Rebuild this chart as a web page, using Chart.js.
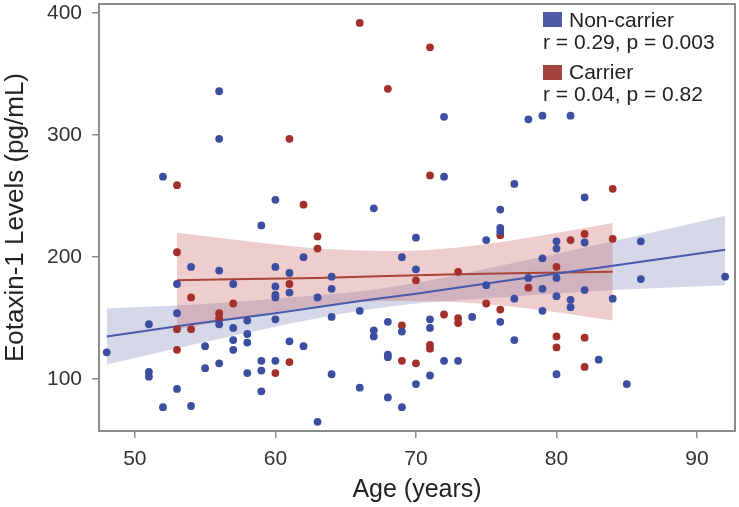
<!DOCTYPE html>
<html>
<head>
<meta charset="utf-8">
<script src="https://cdn.jsdelivr.net/npm/chart.js@4.4.1/dist/chart.umd.min.js"></script>
<style>
  html, body { margin: 0; padding: 0; background: #fff; }
  #wrap { width: 739px; height: 507px; }
</style>
</head>
<body>
<div id="wrap"><canvas id="eotaxin-chart" width="739" height="507"></canvas></div>
<script>
// tick labels
var xTicks = [50, 60, 70, 80, 90];
var yTicks = [100, 200, 300, 400];

// Non-carrier points (age, pg/mL)
var nonCarrierAge = [48, 51, 51, 51, 52, 52, 53, 53, 53, 54, 54, 55, 55, 56, 56, 56, 56, 56,
    57, 57, 57, 57, 58, 58, 58, 58, 59, 59, 59, 59, 60, 60, 60, 60, 60, 60, 60, 61, 61, 61,
    62, 62, 63, 63, 64, 64, 64, 64, 66, 66, 67, 67, 67, 68, 68, 68, 68, 69, 69, 69, 70, 70, 70,
    71, 71, 71, 72, 72, 72, 73, 74, 75, 75, 76, 76, 76, 76, 77, 77, 77, 78, 78, 79, 79, 79, 79,
    80, 80, 80, 80, 80, 81, 81, 81, 82, 82, 82, 83, 84, 85, 86, 86, 92];
var nonCarrierLevel = [122, 145, 106, 102, 266, 77, 178, 154, 92, 192, 78, 127, 109, 336, 297, 189, 145, 113,
    178, 142, 132, 124, 148, 137, 130, 105, 226, 115, 107, 90, 247, 192, 176, 169, 167, 149, 115, 187, 171, 131,
    200, 127, 167, 65, 184, 174, 151, 104, 156, 93, 240, 140, 135, 147, 120, 118, 85, 200, 139, 77, 216, 190, 96,
    149, 142, 103, 315, 266, 115, 115, 151, 214, 177, 239, 224, 221, 147, 260, 166, 132, 313, 183, 316, 199, 174, 156,
    213, 207, 183, 168, 104, 316, 165, 159, 249, 212, 173, 116, 166, 96, 213, 182, 184];

// Carrier points (age, pg/mL)
var carrierAge = [53, 53, 53, 53, 54, 54, 56, 56, 57, 60, 61, 61, 61, 62, 63, 63, 66, 68, 69, 69,
    70, 70, 71, 71, 71, 71, 72, 73, 73, 73, 75, 76, 76, 78, 80, 80, 80, 81, 82, 82, 82, 84, 84];
var carrierLevel = [259, 204, 141, 124, 167, 141, 154, 150, 162, 105, 297, 178, 114, 243, 217, 207, 392, 338, 144, 115,
    181, 113, 372, 267, 128, 125, 153, 188, 150, 146, 162, 218, 157, 175, 192, 135, 126, 214, 219, 134, 110, 256, 215];

// regression fits with 95% bands
var nonCarrierFitAge = [48, 54, 60, 66, 70, 76, 84, 92];
var nonCarrierFit = [135, 145, 154, 164, 170, 180, 193, 206];
var nonCarrierUpper = [158, 161, 166, 172, 179, 193, 213, 234];
var nonCarrierLower = [112, 128, 143, 156, 162, 167, 173, 177];

var carrierFitAge = [53, 58, 63, 68, 73, 78, 84];
var carrierFit = [181, 182, 183, 184.5, 186, 187, 188];
var carrierUpper = [220, 213, 207, 205, 208, 216, 228];
var carrierLower = [141, 151, 160, 164, 163, 158, 148];

var blueDot = '#3d4ea1';
var redDot = '#a3302a';
var frameColor = '#8c8c8c';
var fontFamily = '"Liberation Sans", Arial, sans-serif';

function toPoints(xs, ys) {
    var pts = [];
    for (var i = 0; i < xs.length; i++) {
        pts.push({ x: xs[i], y: ys[i] });
    }
    return pts;
}

function bandSet(label, xs, ys, fillTo, fillColor, order) {
    return {
        type: 'line',
        label: label,
        data: toPoints(xs, ys),
        borderWidth: 0,
        borderColor: 'rgba(0,0,0,0)',
        backgroundColor: fillColor,
        pointRadius: 0,
        fill: fillTo,
        tension: 0.4,
        cubicInterpolationMode: 'monotone',
        order: order
    };
}

var frameAndLegend = {
    id: 'frameAndLegend',
    afterDraw: function (chart) {
        var ctx = chart.ctx;
        var a = chart.chartArea;
        ctx.save();
        ctx.strokeStyle = frameColor;
        ctx.lineWidth = 2;
        ctx.strokeRect(a.left, a.top, a.right - a.left, a.bottom - a.top);

        ctx.font = '21px ' + fontFamily;
        ctx.textBaseline = 'alphabetic';
        ctx.textAlign = 'left';

        ctx.fillStyle = '#4f5ba6';
        ctx.fillRect(543, 12, 19, 15);
        ctx.fillStyle = '#222';
        ctx.fillText('Non-carrier', 569, 27);
        ctx.fillText('r = 0.29, p = 0.003', 543, 49);

        ctx.fillStyle = '#a4443c';
        ctx.fillRect(543, 65, 19, 15);
        ctx.fillStyle = '#222';
        ctx.fillText('Carrier', 569, 79);
        ctx.fillText('r = 0.04, p = 0.82', 543, 101);
        ctx.restore();
    }
};

var ctx = document.getElementById('eotaxin-chart').getContext('2d');
var myScatter = new Chart(ctx, {
    type: 'scatter',
    data: {
        datasets: [
            {
                label: 'Non-carrier',
                data: toPoints(nonCarrierAge, nonCarrierLevel),
                backgroundColor: blueDot,
                borderWidth: 0,
                pointRadius: 3.9,
                order: 0
            },
            {
                label: 'Carrier',
                data: toPoints(carrierAge, carrierLevel),
                backgroundColor: redDot,
                borderWidth: 0,
                pointRadius: 3.9,
                order: 0
            },
            {
                type: 'line',
                label: 'Non-carrier fit',
                data: toPoints(nonCarrierFitAge, nonCarrierFit),
                borderColor: '#4a5aab',
                borderWidth: 2,
                pointRadius: 0,
                fill: false,
                order: 1
            },
            {
                type: 'line',
                label: 'Carrier fit',
                data: toPoints(carrierFitAge, carrierFit),
                borderColor: '#a8443a',
                borderWidth: 2,
                pointRadius: 0,
                fill: false,
                order: 1
            },
            bandSet('Non-carrier upper', nonCarrierFitAge, nonCarrierUpper, '+1', 'rgba(95,110,175,0.27)', 3),
            bandSet('Non-carrier lower', nonCarrierFitAge, nonCarrierLower, false, 'rgba(0,0,0,0)', 3),
            bandSet('Carrier upper', carrierFitAge, carrierUpper, '+1', 'rgba(200,100,100,0.32)', 2),
            bandSet('Carrier lower', carrierFitAge, carrierLower, false, 'rgba(0,0,0,0)', 2)
        ]
    },
    options: {
        responsive: false,
        animation: false,
        layout: { padding: { top: 3, right: 3, left: 0, bottom: 0 } },
        plugins: {
            legend: { display: false },
            tooltip: { enabled: false }
        },
        scales: {
            x: {
                type: 'linear',
                min: 47.45,
                max: 92.7,
                afterBuildTicks: function (scale) {
                    scale.ticks = xTicks.map(function (v) { return { value: v }; });
                },
                afterFit: function (scale) {
                    scale.height = 76;
                    scale.paddingLeft = 0;
                    scale.paddingRight = 0;
                },
                grid: { display: true, drawOnChartArea: false, drawTicks: true, tickLength: 7, color: frameColor, lineWidth: 1.5 },
                border: { display: false },
                ticks: {
                    padding: 9,
                    color: '#333',
                    maxRotation: 0,
                    font: { family: fontFamily, size: 21 }
                },
                title: {
                    display: true,
                    text: 'Age (years)',
                    color: '#222',
                    padding: { top: 0, bottom: 2 },
                    font: { family: fontFamily, size: 25 }
                }
            },
            y: {
                type: 'linear',
                min: 57.5,
                max: 407.5,
                afterBuildTicks: function (scale) {
                    scale.ticks = yTicks.map(function (v) { return { value: v }; });
                },
                afterFit: function (scale) {
                    scale.width = 99;
                    scale.paddingTop = 0;
                    scale.paddingBottom = 0;
                },
                grid: { display: true, drawOnChartArea: false, drawTicks: true, tickLength: 7, color: frameColor, lineWidth: 1.5 },
                border: { display: false },
                ticks: {
                    padding: 10,
                    color: '#333',
                    font: { family: fontFamily, size: 21 }
                },
                title: {
                    display: true,
                    text: 'Eotaxin-1 Levels (pg/mL)',
                    color: '#222',
                    padding: { top: 0, bottom: 0 },
                    font: { family: fontFamily, size: 26 }
                }
            }
        }
    },
    plugins: [frameAndLegend]
});
</script>
</body>
</html>
